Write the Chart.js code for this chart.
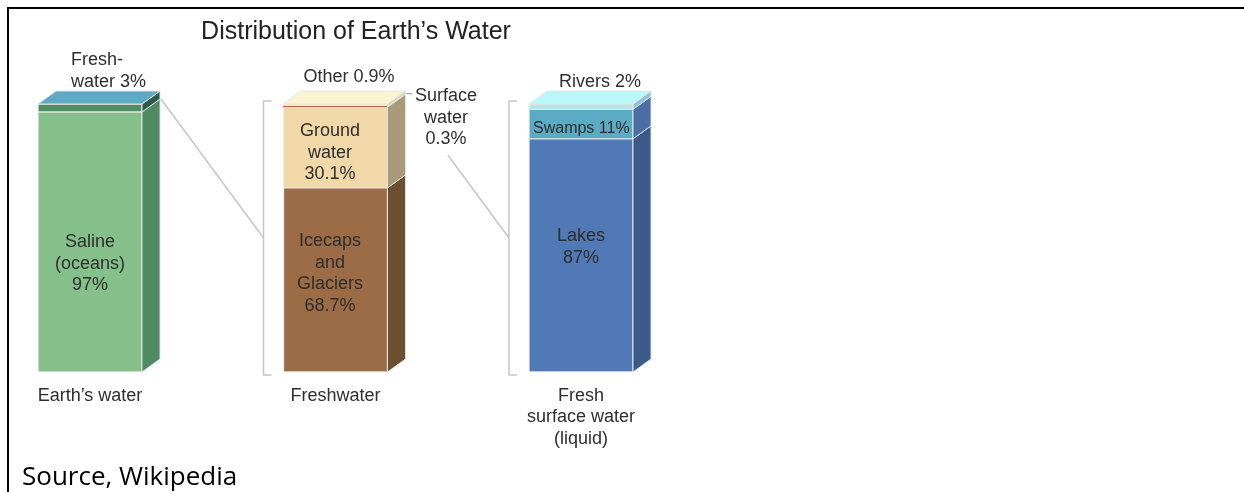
<!DOCTYPE html>
<html>
<head>
<meta charset="utf-8">
<script src="https://cdn.jsdelivr.net/npm/chart.js@4.4.1/dist/chart.umd.min.js"></script>
<style>
  html, body { margin: 0; padding: 0; background: #fff; }
  #wrap { position: relative; width: 1244px; height: 492px; overflow: hidden; }
  #frame { position: absolute; left: 7px; top: 7px; right: -10px; bottom: -10px;
           border-left: 2px solid #000; border-top: 2px solid #000; }
  #myChart { position: absolute; left: 0; top: 0; }
  #source { position: absolute; left: 22px; top: 462px; font: 26px "Open Sans", sans-serif;
            line-height: 26px; color: #000; white-space: nowrap; }
</style>
</head>
<body>
<div id="wrap">
  <div id="frame"></div>
  <canvas id="myChart" width="1244" height="492"></canvas>
  <div id="source">Source, Wikipedia</div>
</div>
<script>
// categories (x axis)
let categorias = [["Earth’s water"], ["Freshwater"], ["Fresh", "surface water", "(liquid)"]];

// segments, bottom to top inside each bar
let segmentos = ["Saline (oceans)", "Freshwater", "Icecaps and Glaciers", "Ground water",
                 "Surface water", "Other", "Lakes", "Swamps", "Rivers"];
let barra_de = [0, 0, 1, 1, 1, 1, 2, 2, 2];
let valores = [97, 3, 68.7, 30.1, 0.3, 0.9, 87, 11, 2];
let etiquetas = [["Saline", "(oceans)", "97%"], ["Fresh-", "water 3%"],
                 ["Icecaps", "and", "Glaciers", "68.7%"], ["Ground", "water", "30.1%"],
                 ["Surface", "water", "0.3%"], ["Other 0.9%"], ["Lakes", "87%"],
                 ["Swamps 11%"], ["Rivers 2%"]];

// colours
let color_frente = ["#85c08b", "#4f8b63", "#9b6c45", "#f0d8a9", "#b8603b", "#fbefc8",
                    "#5079b6", "#5aabc3", "#aee8ef"];
let color_lado = ["#4f8a63", "#2e5c4b", "#6a4f30", "#a99a79", "#8b5535", "#d9cfae",
                  "#3b5a87", "#4b6ea4", "#8fc2d6"];
let color_tapa = ["#5ea9c4", "#fcf3d3", "#b8f7fa"];

// label placement relative to the centre of each segment
let pos_etiqueta = [
  { dx: 0, dy: 5, align: "center" },
  { dx: -19, dy: -43, align: "left" },
  { dx: -5.5, dy: -34, align: "center" },
  { dx: -5.5, dy: -11.5, align: "center" },
  { dx: 110.5, dy: -6, align: "center" },
  { dx: 13.5, dy: -23, align: "center" },
  { dx: 0, dy: -14.4, align: "center" },
  { dx: -48, dy: 9, align: "left", size: 16 },
  { dx: 19, dy: -20, align: "center" },
];

const DX = 18, DY = 13;
const BORDE = "rgba(228,228,228,0.95)";
const GRIS = "#c6c6c6";
const FUENTE = '"Liberation Sans", Arial, sans-serif';

function caja(chart, i) {
  let j = barra_de[i];
  let el = chart.getDatasetMeta(i).data[j];
  let p = el.getProps(["x", "y", "base", "width"], true);
  return { x: p.x, top: Math.min(p.y, p.base), base: Math.max(p.y, p.base),
           left: p.x - p.width / 2, right: p.x + p.width / 2 };
}

function grupo(chart, j) {
  let g = null;
  segmentos.forEach((s, i) => {
    if (barra_de[i] != j) return;
    let b = caja(chart, i);
    if (!g) g = Object.assign({}, b);
    g.top = Math.min(g.top, b.top);
    g.base = Math.max(g.base, b.base);
  });
  return g;
}

let cubo = {
  id: "cubo",
  afterDatasetsDraw(chart) {
    let ctx = chart.ctx;
    ctx.save();
    ctx.lineWidth = 1;
    ctx.strokeStyle = BORDE;
    segmentos.forEach((s, i) => {
      let b = caja(chart, i);
      ctx.beginPath();
      ctx.moveTo(b.right, b.top);
      ctx.lineTo(b.right + DX, b.top - DY);
      ctx.lineTo(b.right + DX, b.base - DY);
      ctx.lineTo(b.right, b.base);
      ctx.closePath();
      ctx.fillStyle = color_lado[i];
      ctx.fill();
      ctx.stroke();
    });
    categorias.forEach((c, j) => {
      let g = grupo(chart, j);
      ctx.beginPath();
      ctx.moveTo(g.left, g.top);
      ctx.lineTo(g.left + DX, g.top - DY);
      ctx.lineTo(g.right + DX, g.top - DY);
      ctx.lineTo(g.right, g.top);
      ctx.closePath();
      ctx.fillStyle = color_tapa[j];
      ctx.fill();
      ctx.stroke();
    });
    ctx.restore();
  },
  afterDraw(chart) {
    let ctx = chart.ctx;
    ctx.save();

    // brackets and connectors
    ctx.strokeStyle = GRIS;
    ctx.lineWidth = 1.5;
    let medios = [];
    [1, 2].forEach(j => {
      let g = grupo(chart, j);
      let bx = g.left - 20, t = g.top - 3, bt = g.base + 3;
      ctx.beginPath();
      ctx.moveTo(bx + 8, t); ctx.lineTo(bx, t); ctx.lineTo(bx, bt); ctx.lineTo(bx + 8, bt);
      ctx.stroke();
      medios.push({ x: bx, y: (t + bt) / 2 });
    });
    let fw = caja(chart, 1);
    ctx.beginPath();
    ctx.moveTo(fw.right + DX + 1, fw.base - DY);
    ctx.lineTo(medios[0].x, medios[0].y);
    ctx.stroke();

    let sw = caja(chart, 4);
    let swp = pos_etiqueta[4];
    let lx = sw.x + swp.dx;
    let ly = (sw.top + sw.base) / 2 + swp.dy + 21.7 * 2 + 11;
    ctx.beginPath();
    ctx.moveTo(lx + 2, ly);
    ctx.lineTo(medios[1].x, medios[1].y);
    ctx.stroke();

    // small tick to the surface water label
    ctx.strokeStyle = "#8a8a8a";
    ctx.lineWidth = 1;
    let my = (sw.top + sw.base) / 2 - DY;
    ctx.beginPath();
    ctx.moveTo(sw.right + DX + 1, my);
    ctx.lineTo(sw.right + DX + 7, my);
    ctx.stroke();

    // segment labels
    ctx.fillStyle = "#2e2e2e";
    ctx.textBaseline = "alphabetic";
    segmentos.forEach((s, i) => {
      let b = caja(chart, i);
      let pe = pos_etiqueta[i];
      ctx.font = (pe.size || 18) + "px " + FUENTE;
      ctx.textAlign = pe.align;
      let y0 = (b.top + b.base) / 2 + pe.dy;
      etiquetas[i].forEach((linea, k) => {
        ctx.fillText(linea, b.x + pe.dx, y0 + k * 21.7);
      });
    });

    // title
    ctx.fillStyle = "#222";
    ctx.font = "25px " + FUENTE;
    ctx.textAlign = "center";
    ctx.fillText("Distribution of Earth’s Water", 356, 39);
    ctx.restore();
  }
};

let datasets = segmentos.map((s, i) => ({
  label: s,
  data: categorias.map((c, j) => (j == barra_de[i] ? valores[i] : null)),
  backgroundColor: color_frente[i],
  borderColor: BORDE,
  borderWidth: valores[i] >= 2 ? 1 : 0,
  borderSkipped: false,
  barThickness: 104,
  clip: false,
}));

let my_chart = document.getElementById("myChart");
let grafica = new Chart(my_chart, {
  type: "bar",
  data: { labels: categorias, datasets: datasets },
  plugins: [cubo],
  options: {
    responsive: false,
    animation: false,
    layout: { padding: { left: 90, right: 663, top: 104, bottom: 0 } },
    plugins: { legend: { display: false }, tooltip: { enabled: false }, title: { display: false } },
    scales: {
      x: {
        stacked: true,
        offset: false,
        grid: { display: false },
        border: { display: false },
        ticks: { autoSkip: false, maxRotation: 0, padding: 5, color: "#2e2e2e",
                 font: { family: FUENTE, size: 18 } },
        afterFit: (axis) => { axis.height = 120; },
      },
      y: { stacked: true, display: false, min: 0, max: 100 },
    },
  },
});
</script>
</body>
</html>
